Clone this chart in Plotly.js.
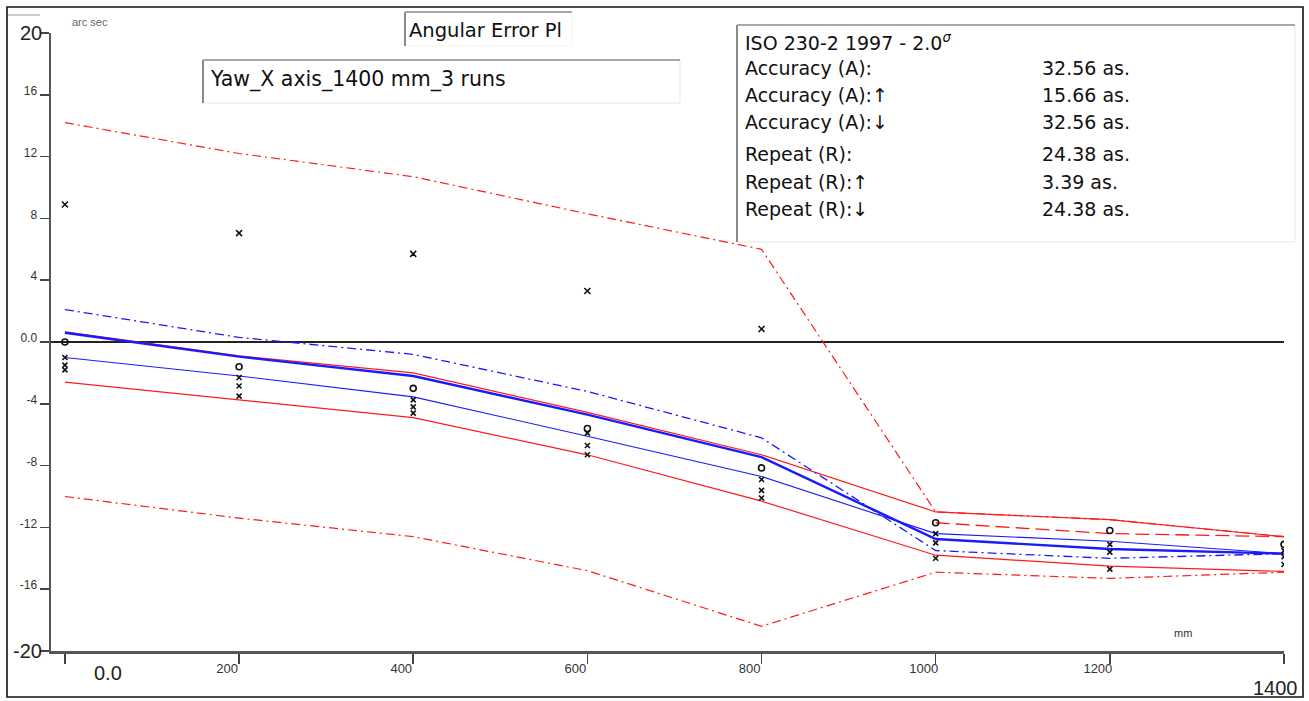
<!DOCTYPE html>
<html>
<head>
<meta charset="utf-8">
<script src="https://cdn.plot.ly/plotly-3.0.1.min.js"></script>
<style>
  html, body { margin: 0; padding: 0; background: #fff; }
  #chart { width: 1309px; height: 701px; }
</style>
</head>
<body>
<div id="chart"></div>
<script>
// Target positions along the axis (mm)
const stations = [0, 200, 400, 600, 800, 1000, 1200, 1400];

// Overall accuracy envelope (arc sec)
const envelopeUpper = [14.2, 12.2, 10.7, 8.3, 6.0, -11.0, -11.5, -12.6];
const envelopeLower = [-10.0, -11.4, -12.6, -14.8, -18.4, -14.9, -15.3, -14.9];

// Upper and lower 2-sigma bands (red)
const bandUpper = [0.65, -0.9, -2.0, -4.55, -7.3, -11.0, -11.5, -12.6];
const bandUpperRevX = [1000, 1200, 1400];
const bandUpperRev = [-11.7, -12.4, -12.6];
const bandLower = [-2.6, -3.75, -4.9, -7.3, -10.3, -13.8, -14.5, -14.85];

// Mean positional deviation and its direction-wise means (blue)
const meanDev = [0.6, -0.95, -2.2, -4.7, -7.45, -12.75, -13.4, -13.7];
const meanUp = [2.1, 0.3, -0.8, -3.2, -6.2, -13.5, -14.0, -13.7];
const meanDown = [-1.0, -2.2, -3.55, -6.1, -8.7, -12.4, -12.9, -13.7];

// Individual run readings
const runA = [0.0, -1.6, -3.0, -5.6, -8.15, -11.7, -12.2, -13.1];
const runB = [-1.0, -2.3, -3.75, -5.9, -8.9, -12.4, -13.1, -13.5];
const runC = [-1.5, -2.85, -4.2, -6.7, -9.6, -13.0, -13.6, -13.9];
const runD = [-1.8, -3.5, -4.6, -7.3, -10.1, -14.0, -14.7, -14.4];

// Reversal values
const reversalX = [0, 200, 400, 600, 800];
const reversal = [8.9, 7.05, 5.7, 3.3, 0.84];

// Axis ticks (the end values get large labels of their own)
const yTickVals = [-20, -16, -12, -8, -4, 0, 4, 8, 12, 16, 20];
const yTickText = ['', '-16', '-12', '-8', '-4', '0.0', '4', '8', '12', '16', ''];
const yEndLabels = ['20', '-20'];
const xTickVals = [0, 200, 400, 600, 800, 1000, 1200, 1400];
const xTickText = ['', '200', '400', '600', '800', '1000', '1200', ''];
const xEndLabels = ['0.0', '1400'];

// Statistics panel
const statTitle = 'ISO 230-2 1997 - 2.0<sup><i>σ</i></sup>';
const statLabels = ['Accuracy (A):', 'Accuracy (A):↑', 'Accuracy (A):↓',
                    'Repeat (R):', 'Repeat (R):↑', 'Repeat (R):↓'];
const statValues = ['32.56 as.', '15.66 as.', '32.56 as.', '24.38 as.', '3.39 as.', '24.38 as.'];

const RED = '#ff1a1a';
const BLUE = '#1a1aff';

function line(x, y, color, width, dash) {
  return { x: x, y: y, type: 'scatter', mode: 'lines',
           line: { color: color, width: width, dash: dash }, hoverinfo: 'skip' };
}
function pts(x, y, symbol, size) {
  return { x: x, y: y, type: 'scatter', mode: 'markers',
           marker: { symbol: symbol, size: size, color: '#111', line: { color: '#111', width: 1.6 } },
           hoverinfo: 'skip' };
}

const traces = [
  line(stations, envelopeUpper, RED, 1.2, '9px,4px,2px,4px'),
  line(stations, envelopeLower, RED, 1.2, '9px,4px,2px,4px'),
  line(stations, bandUpper, RED, 1.2, 'solid'),
  line(bandUpperRevX, bandUpperRev, RED, 1.3, '14px,6px'),
  line(stations, bandLower, RED, 1.2, 'solid'),
  line(stations, meanUp, BLUE, 1.3, '9px,4px,2px,4px'),
  line(stations, meanDown, BLUE, 1.1, 'solid'),
  line(stations, meanDev, BLUE, 2.4, 'solid'),
  pts(stations, runA, 'circle-open', 6),
  pts(stations, runB, 'x-thin-open', 5),
  pts(stations, runC, 'x-thin-open', 5),
  pts(stations, runD, 'x-thin-open', 5),
  pts(reversalX, reversal, 'x-thin-open', 6)
];

// plot area: left 51, right 1284, top 33, bottom 651 (pixels)
const L = 51, R = 1284, T = 33, B = 651;
const xp = px => (px - L) / (R - L);
const yp = py => (B - py) / (B - T);

const FONT = 'Liberation Sans, Arial, sans-serif';
const WIDE = 'DejaVu Sans, Verdana, sans-serif';

function seg(x0, y0, x1, y1, color, width) {
  return { type: 'line', xref: 'paper', yref: 'paper', layer: 'above',
           x0: xp(x0), y0: yp(y0), x1: xp(x1), y1: yp(y1),
           line: { color: color, width: width } };
}
function panel(x0, y0, x1, y1, edge) {
  return [
    { type: 'rect', xref: 'paper', yref: 'paper', layer: 'above',
      x0: xp(x0), y0: yp(y0), x1: xp(x1), y1: yp(y1),
      fillcolor: '#fff', line: { width: 0 } },
    seg(x1, y0, x1, y1, edge, 1),
    seg(x0, y1, x1, y1, edge, 1),
    seg(x0, y0, x0, y1, '#8a8a8a', 2),
    seg(x0, y0, x1, y0, '#a8a8a8', 2)
  ];
}

const shapes = [
  // outer frame
  { type: 'rect', xref: 'paper', yref: 'paper', layer: 'above',
    x0: xp(7), y0: yp(7), x1: xp(1303), y1: yp(697),
    line: { color: '#111', width: 1.6 } },
  seg(8, 15, 40, 15, '#bbb', 1.5),
  ...panel(405, 12, 572, 46, '#f2f2f2'),
  ...panel(203, 60, 680, 103, '#e6e6e6'),
  ...panel(737, 25, 1295, 242, '#e6e6e6')
];

function txt(px, py, text, size, anchor, color, family) {
  return { xref: 'paper', yref: 'paper', x: xp(px), y: yp(py), text: text,
           showarrow: false, xanchor: anchor || 'left', yanchor: 'middle',
           font: { family: family || WIDE, size: size, color: color || '#111' } };
}
// text tied to an axis value on one side and to paper on the other
function axisTxt(xref, x, yref, y, text, size, anchor) {
  return { xref: xref, yref: yref, x: x, y: y, text: text, showarrow: false,
           xanchor: anchor, yanchor: 'middle',
           font: { family: FONT, size: size, color: '#222' } };
}

const annotations = [
  txt(407, 30, 'Angular Error Pl', 19.5),
  txt(208, 79, 'Yaw_X axis_1400 mm_3 runs', 20.5),
  txt(743, 42, statTitle, 19),
  axisTxt('paper', xp(44), 'y', 20, yEndLabels[0], 20, 'right'),
  axisTxt('paper', xp(44), 'y', -20, yEndLabels[1], 20, 'right'),
  axisTxt('x', 50, 'paper', yp(673), xEndLabels[0], 20, 'center'),
  axisTxt('x', 1390, 'paper', yp(688), xEndLabels[1], 20, 'center'),
  txt(90, 22, 'arc sec', 11, 'center', '#666', FONT),
  txt(1183, 633, 'mm', 11, 'center', '#333', FONT)
];
const statRows = [68, 95, 122, 154, 182, 209];
statLabels.forEach((s, i) => annotations.push(txt(743, statRows[i], s, 19)));
statValues.forEach((s, i) => annotations.push(txt(1040, statRows[i], s, 19)));

const layout = {
  width: 1309, height: 701,
  margin: { l: L, r: 1309 - R, t: T, b: 701 - B, pad: 0 },
  paper_bgcolor: '#fff', plot_bgcolor: '#fff',
  showlegend: false,
  font: { family: FONT, color: '#222' },
  xaxis: {
    range: [-16, 1400], showgrid: false, zeroline: false,
    showline: true, linecolor: '#555', linewidth: 2.5,
    ticks: 'outside', ticklen: 10, tickwidth: 1.5, tickcolor: '#444',
    tickvals: xTickVals, ticktext: xTickText,
    tickfont: { size: 13, color: '#333', family: FONT },
    ticklabelshift: -12, ticklabelstandoff: -6
  },
  yaxis: {
    range: [-20, 20], showgrid: false,
    zeroline: true, zerolinecolor: '#222', zerolinewidth: 1.6,
    showline: true, linecolor: '#555', linewidth: 2.5,
    ticks: 'outside', ticklen: 9, tickwidth: 1.5, tickcolor: '#444',
    tickvals: yTickVals, ticktext: yTickText,
    tickfont: { size: 12, color: '#333', family: FONT },
    ticklabelshift: -4
  },
  shapes: shapes,
  annotations: annotations
};

Plotly.newPlot('chart', traces, layout, { staticPlot: true, displayModeBar: false });
</script>
</body>
</html>
